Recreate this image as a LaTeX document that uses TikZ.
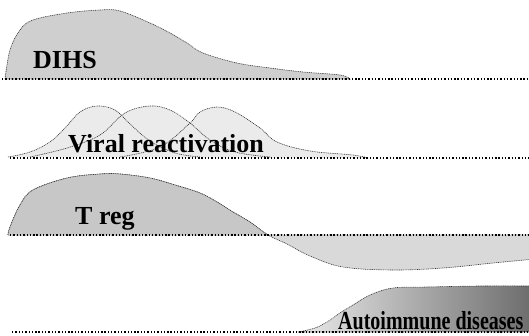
\documentclass[tikz,border=0pt]{standalone}
\usepackage{graphicx}
\usepackage{fontspec}
\setmainfont{Liberation Serif}
\begin{document}
\begin{tikzpicture}[x=1pt,y=-1pt,
  outl/.style={draw=black!80,line width=0.6pt,dash pattern=on 1pt off 0.8pt},
  axisline/.style={black,line width=1.6pt,dash pattern=on 1.4pt off 1.9pt},
  lbl/.style={font=\fontsize{26}{30}\selectfont\bfseries,inner sep=0pt,anchor=base west}]
\useasboundingbox (0,0) rectangle (529,335);
\begin{scope}
\clip (0,0) rectangle (529,335);
% DIHS
\path[fill=black!19,outl] plot[smooth,tension=0.6] coordinates {(5,79) (10,50) (20,30) (33,20) (67,13) (100,10) (120,11) (150,23) (170,33) (187,43) (203,53) (237,63) (270,68) (303,72) (340,75) (350,79)} -- cycle;
% Viral reactivation bumps: fills
\fill[black!8] plot[smooth,tension=0.6] coordinates {(8,157) (30,152) (50,142) (65,128) (80,112) (97,106) (115,110) (130,124) (150,141) (175,153) (200,157)} -- cycle;
\fill[black!8] plot[smooth,tension=0.6] coordinates {(30,157) (67,148) (100,135) (125,113) (150,106) (170,110) (190,123) (210,140) (235,152) (270,157)} -- cycle;
\fill[black!8] plot[smooth,tension=0.6] coordinates {(120,157) (160,147) (190,123) (200,112) (217,107) (235,112) (260,128) (277,142) (310,151) (353,155) (368,158)} -- cycle;
% outlines
\draw[outl] plot[smooth,tension=0.6] coordinates {(8,157) (30,152) (50,142) (65,128) (80,112) (97,106) (115,110) (130,124) (150,141) (175,153) (200,157)};
\draw[outl] plot[smooth,tension=0.6] coordinates {(30,157) (67,148) (100,135) (125,113) (150,106) (170,110) (190,123) (210,140) (235,152) (270,157)};
\draw[outl] plot[smooth,tension=0.6] coordinates {(120,157) (160,147) (190,123) (200,112) (217,107) (235,112) (260,128) (277,142) (310,151) (353,155) (368,158)};
% T reg (tail below the line is a little lighter)
\path[fill=black!15,outl] plot[smooth,tension=0.6] coordinates {(8,235) (10,227) (20,205) (33,190) (67,178) (100,174) (120,174) (150,178) (175,185) (200,193) (217,202) (233,212) (250,222) (268,235) (287,244) (310,256) (343,267) (393,270) (443,268) (493,263) (535,259)} -- (535,235) -- cycle;
\begin{scope}
\clip (0,0) rectangle (529,235);
\fill[black!22] plot[smooth,tension=0.6] coordinates {(8,235) (10,227) (20,205) (33,190) (67,178) (100,174) (120,174) (150,178) (175,185) (200,193) (217,202) (233,212) (250,222) (268,235) (287,244) (310,256) (343,267) (393,270) (443,268) (493,263) (535,259)} -- (535,235) -- cycle;
\draw[outl] plot[smooth,tension=0.6] coordinates {(8,235) (10,227) (20,205) (33,190) (67,178) (100,174) (120,174) (150,178) (175,185) (200,193) (217,202) (233,212) (250,222) (268,235) (287,244)};
\end{scope}
% Autoimmune diseases
\path[left color=black!8,right color=black!58,outl] plot[smooth,tension=0.6] coordinates {(298,332) (315,328) (327,322) (340,313) (353,305) (370,295) (393,288) (427,287) (480,286) (535,286)} -- (535,332) -- cycle;
% dotted axis lines
\coordinate (a1) at (2,79);   \coordinate (b1) at (529,79);
\coordinate (a2) at (10,158); \coordinate (b2) at (529,158);
\coordinate (a3) at (10,235); \coordinate (b3) at (529,235);
\coordinate (a4) at (12,332); \coordinate (b4) at (529,332);
\draw[axisline] (a1) -- (b1);
\draw[axisline] (a2) -- (b2);
\draw[axisline] (a3) -- (b3);
\draw[axisline] (a4) -- (b4);
% labels
\node[lbl] (dihs) at (33,68) {DIHS};
\node[lbl] (viral) at (68,152) {Viral reactivation};
\node[lbl] (treg) at (75,224) {T reg};
\node[lbl] (auto) at (338,329) {\scalebox{0.77}[1]{Autoimmune diseases}};
\end{scope}
\end{tikzpicture}
\end{document}
